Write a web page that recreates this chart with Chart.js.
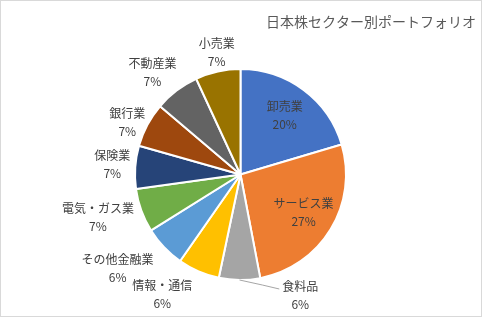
<!DOCTYPE html>
<html>
<head>
<meta charset="utf-8">
<script src="https://cdn.jsdelivr.net/npm/chart.js@4"></script>
<style>
  html, body { margin: 0; padding: 0; background: #fff; }
  #wrap { width: 482px; height: 317px; }
</style>
</head>
<body>
<div id="wrap"><canvas id="pieChart" width="482" height="317"></canvas></div>
<script>
// sector names and their weights (percent of portfolio)
const sectors = ['卸売業', 'サービス業', '食料品', '情報・通信', 'その他金融業',
                 '電気・ガス業', '保険業', '銀行業', '不動産業', '小売業'];
const weights = [20.4, 26.6, 6.3, 6.4, 6.4, 6.7, 6.6, 6.8, 6.9, 6.9];
const sliceColors = ['#4472C4', '#ED7D31', '#A5A5A5', '#FFC000', '#5B9BD5',
                     '#70AD47', '#264478', '#9E480E', '#636363', '#997300'];
const chartTitle = '日本株セクター別ポートフォリオ';

const labelFont = '12px "Noto Sans CJK JP", "Noto Sans", sans-serif';

// small nudges for outside labels, like Excel's best-fit placement
const labelNudge = [null, null, [61, -5], [-22, 5], [-16, 7], [-4, 0], [1, -1], [1, 7], [-6, -2], [4, 1]];

// draws frame, title and the data labels
const pieLabels = {
    id: 'pieLabels',
    beforeDraw(chart) {
        const ctx = chart.ctx;
        ctx.save();
        ctx.fillStyle = '#fff';
        ctx.fillRect(0, 0, chart.width, chart.height);
        ctx.strokeStyle = '#d9d9d9';
        ctx.lineWidth = 1;
        ctx.strokeRect(0.5, 0.5, chart.width - 1, chart.height - 1);
        ctx.restore();
    },
    afterDatasetsDraw(chart) {
        const ctx = chart.ctx;
        const meta = chart.getDatasetMeta(0);
        const total = weights.reduce((a, b) => a + b, 0);

        ctx.save();
        // title
        ctx.font = '14px "Noto Sans CJK JP", sans-serif';
        ctx.fillStyle = '#595959';
        ctx.textAlign = 'right';
        ctx.textBaseline = 'middle';
        ctx.fillText(chartTitle, 476, 22);

        ctx.font = labelFont;
        ctx.fillStyle = '#404040';
        ctx.textAlign = 'center';

        meta.data.forEach((arc, i) => {
            const p = arc.getProps(['x', 'y', 'startAngle', 'endAngle', 'outerRadius'], true);
            const mid = (p.startAngle + p.endAngle) / 2;
            const dx = Math.cos(mid), dy = Math.sin(mid);
            const R = p.outerRadius;
            const pct = Math.round(weights[i] / total * 100) + '%';
            let cx, cy;

            if (weights[i] / total > 0.15) {
                cx = p.x + dx * R * 0.7;
                cy = p.y + dy * R * 0.7;
            } else {
                const w = ctx.measureText(sectors[i]).width;
                const nudge = labelNudge[i] || [0, 0];
                cx = p.x + dx * (R + 6) + dx * w / 2 + nudge[0];
                cy = p.y + dy * (R + 6) + dy * 14 + nudge[1];

                if (Math.abs(nudge[0]) > 30) {
                    // leader line back to the slice
                    ctx.strokeStyle = '#a6a6a6';
                    ctx.lineWidth = 1;
                    ctx.beginPath();
                    ctx.moveTo(p.x + dx * R, p.y + dy * R);
                    ctx.lineTo(cx - w / 2 - 20, cy - 10);
                    ctx.lineTo(cx - w / 2 - 3, cy - 6);
                    ctx.stroke();
                }
            }
            ctx.fillText(sectors[i], cx, cy - 9);
            ctx.fillText(pct, cx, cy + 9);
        });
        ctx.restore();
    }
};

const ctx = document.getElementById('pieChart').getContext('2d');
new Chart(ctx, {
    type: 'pie',
    data: {
        labels: sectors,
        datasets: [{
            data: weights,
            backgroundColor: sliceColors,
            borderColor: '#ffffff',
            borderWidth: 2
        }]
    },
    options: {
        responsive: false,
        animation: false,
        layout: { padding: { top: 68, bottom: 36, left: 134, right: 135 } },
        plugins: {
            legend: { display: false },
            title: { display: false },
            tooltip: { enabled: false }
        }
    },
    plugins: [pieLabels]
});
</script>
</body>
</html>
